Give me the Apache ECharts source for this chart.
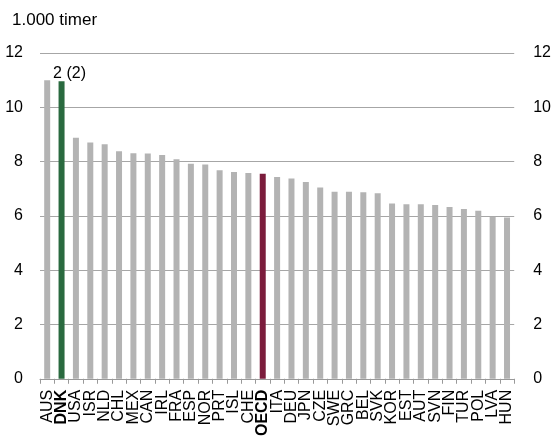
<!DOCTYPE html>
<html><head><meta charset="utf-8">
<script src="https://cdn.jsdelivr.net/npm/echarts@6/dist/echarts.min.js"></script>
<style>html,body{margin:0;padding:0;background:#fff}#c{width:554px;height:439px}</style>
</head><body><div id="c"></div>
<script>
const categories = ['AUS','DNK','USA','ISR','NLD','CHL','MEX','CAN','IRL','FRA','ESP','NOR','PRT','ISL','CHE','OECD','ITA','DEU','JPN','CZE','SWE','GRC','BEL','SVK','KOR','EST','AUT','SVN','FIN','TUR','POL','LVA','HUN'];
const values = [11.0,10.96,8.88,8.70,8.64,8.38,8.31,8.30,8.24,8.09,7.92,7.89,7.68,7.62,7.58,7.55,7.43,7.38,7.25,7.05,6.89,6.89,6.87,6.83,6.46,6.43,6.43,6.40,6.33,6.25,6.19,5.97,5.94];
const yTicks = [0,2,4,6,8,10,12];
const unitLabel = '1.000 timer';
const dnkLabel = '2 (2)';
const boldCats = ['DNK','OECD'];
const colorMap = {DNK:'#2a6a3f', OECD:'#7b1c3c'};
const grey = '#b3b3b3';

const font = 'Liberation Sans, Arial, sans-serif';
const chart = echarts.init(document.getElementById('c'));
const data = categories.map((c,i)=>{
  const item = {value: values[i], itemStyle:{color: colorMap[c] || grey}};
  if (c==='DNK') item.label = {show:true, position:'top', formatter: dnkLabel, offset:[8,5], fontSize:16, color:'#000', fontFamily:font};
  return item;
});
const yAxisBase = {
  type:'value', min:yTicks[0], max:yTicks[yTicks.length-1], interval:2,
  axisLine:{show:false}, axisTick:{show:false},
  axisLabel:{fontSize:16, color:'#000', fontFamily:font}
};
chart.setOption({
  animation:false,
  graphic:[{type:'text', left:12, top:12, style:{text:unitLabel, fontSize:17, fill:'#000', fontFamily:font}}],
  grid:{left:40, right:38, top:53, bottom:59},
  xAxis:{type:'category', data:categories,
    axisLine:{lineStyle:{color:'#999', width:1}},
    axisTick:{show:true, length:5, lineStyle:{color:'#999'}, alignWithLabel:false},
    axisLabel:{rotate:90, interval:0, fontSize:16, color:'#000', fontFamily:font, margin:11,
      formatter:(v)=> boldCats.includes(v) ? '{b|'+v+'}' : v,
      rich:{b:{fontWeight:'bold', fontSize:16, fontFamily:font, color:'#000'}}}
  },
  yAxis:[
    Object.assign({}, yAxisBase, {position:'left', axisLabel:Object.assign({}, yAxisBase.axisLabel, {margin:17}),
      splitLine:{show:true, lineStyle:{color:'#a6a6a6', width:1}}}),
    Object.assign({}, yAxisBase, {position:'right', axisLabel:Object.assign({}, yAxisBase.axisLabel, {margin:19}),
      splitLine:{show:false}})
  ],
  series:[{type:'bar', data:data, barWidth:6, yAxisIndex:0}]
});
</script></body></html>
